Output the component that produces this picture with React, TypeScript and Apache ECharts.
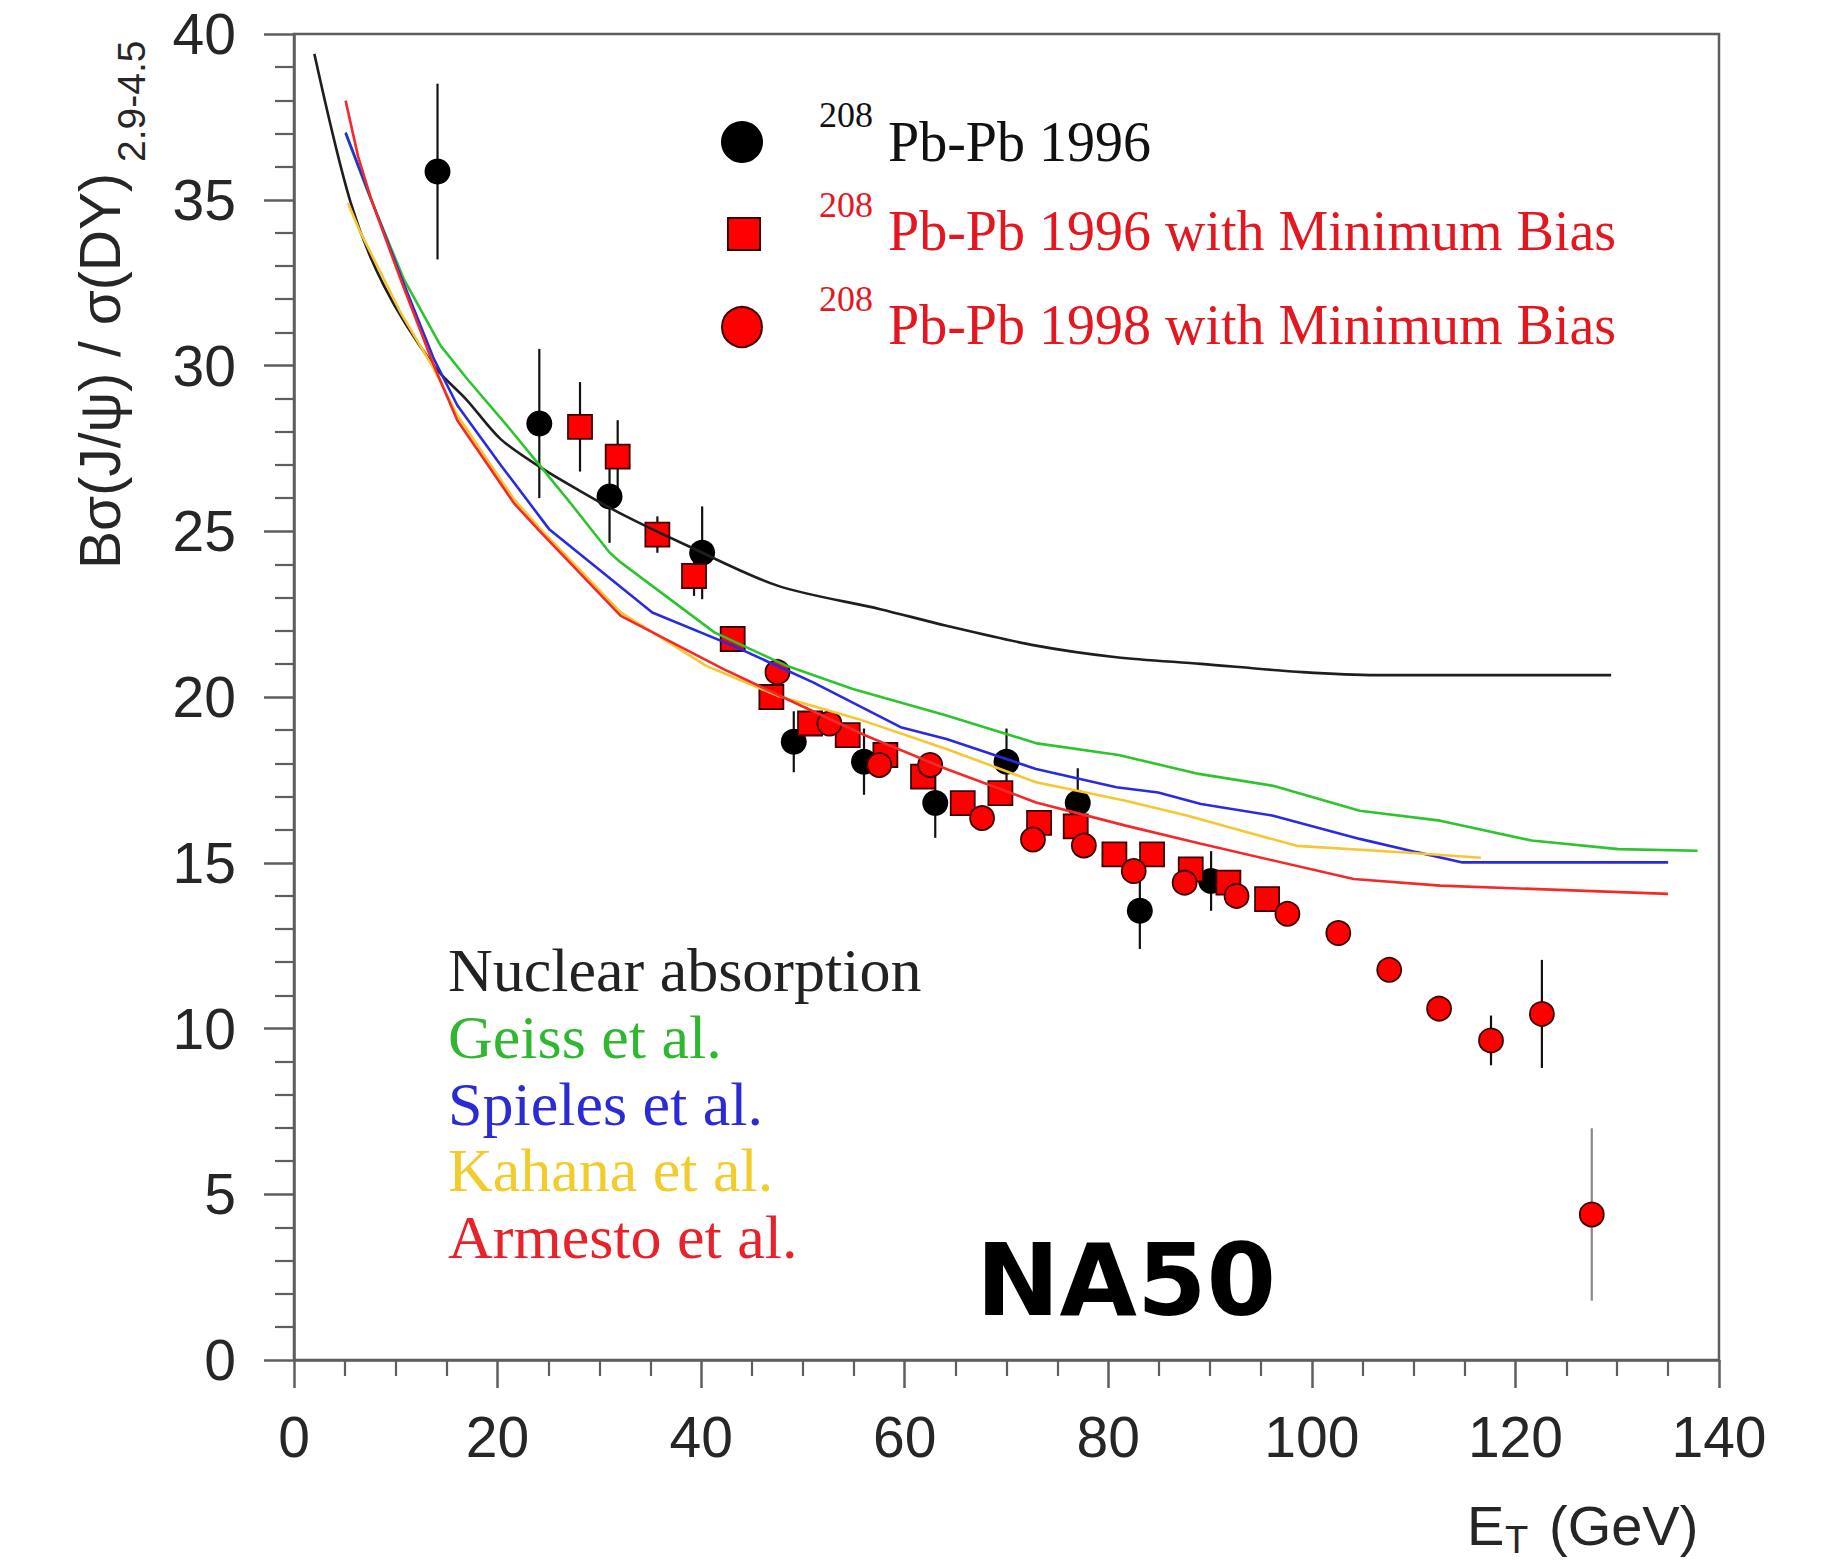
import React, { useEffect, useRef } from "react";
import * as echarts from "echarts";

// ---------- data ----------
// Pb-Pb 1996 (black circles)
const pb96X = [14.1, 24.1, 31.0, 40.1, 49.1, 56.0, 63.0, 70.0, 77.0, 83.1, 90.1];
const pb96Y = [35.85, 28.25, 26.05, 24.35, 18.65, 18.05, 16.8, 18.05, 16.8, 13.55, 14.45];
const pb96Err = [2.65, 2.25, 1.4, 1.4, 0.92, 1.0, 1.05, 1.0, 1.05, 1.15, 0.9];

// Pb-Pb 1996 with Minimum Bias (red squares)
const mb96X = [28.1, 31.8, 35.7, 39.3, 43.1, 46.9, 50.7, 54.4, 58.1, 61.8, 65.7, 69.4, 73.2, 76.8, 80.6, 84.3, 88.1, 91.8, 95.6];
const mb96Y = [28.15, 27.25, 24.9, 23.65, 21.75, 20.0, 19.2, 18.85, 18.25, 17.6, 16.8, 17.1, 16.2, 16.1, 15.25, 15.25, 14.8, 14.4, 13.9];
const mb96Err = [1.35, 1.1, 0.55, 0.6, 0.35, 0.3, 0.3, 0.3, 0.3, 0.3, 0.3, 0.3, 0.3, 0.3, 0.3, 0.3, 0.3, 0.3, 0.3];

// Pb-Pb 1998 with Minimum Bias (red circles)
const mb98X = [47.5, 52.6, 57.5, 62.5, 67.6, 72.6, 77.6, 82.5, 87.5, 92.6, 97.6, 102.6, 107.6, 112.5, 117.6, 122.6, 127.5];
const mb98Y = [20.75, 19.2, 17.95, 17.95, 16.35, 15.7, 15.52, 14.75, 14.4, 14.0, 13.46, 12.88, 11.77, 10.6, 9.64, 10.44, 4.39];
const mb98Err = [0.4, 0.3, 0.3, 0.3, 0.3, 0.3, 0.3, 0.3, 0.3, 0.3, 0.3, 0.3, 0.3, 0.3, 0.75, 1.63, 2.6];

// model curves
const nucX = [2.0, 5.56, 8.83, 13.74, 17.0, 20.3, 24.1, 27.8, 32.3, 38.4, 47.5, 57.6, 64.1, 72.9, 80.8, 89.1, 99.1, 106.4, 129.4];
const nucY = [39.4, 34.92, 32.41, 29.99, 28.95, 27.78, 26.95, 26.27, 25.5, 24.6, 23.36, 22.65, 22.15, 21.55, 21.2, 21.0, 20.75, 20.66, 20.66];

const geissX = [5.07, 7.3, 10.8, 14.4, 17.0, 20.95, 26.85, 31.0, 32.1, 41.3, 48.4, 54.9, 64.1, 73.0, 81.0, 88.9, 96.2, 104.7, 112.6, 121.6, 130.1, 137.9];
const geissY = [37.0, 35.2, 32.6, 30.6, 29.6, 28.18, 25.97, 24.36, 24.06, 21.95, 20.94, 20.24, 19.44, 18.6, 18.25, 17.68, 17.32, 16.57, 16.27, 15.67, 15.41, 15.36];

const spielesX = [5.07, 7.2, 10.47, 13.74, 16.04, 20.3, 25.1, 35.2, 43.1, 51.0, 59.6, 64.1, 72.9, 80.8, 84.9, 89.1, 96.2, 104.7, 110.3, 114.8, 135.0];
const spielesY = [37.03, 35.32, 32.71, 30.2, 28.8, 27.0, 25.05, 22.55, 21.55, 20.44, 19.09, 18.73, 17.83, 17.28, 17.12, 16.77, 16.42, 15.72, 15.32, 15.01, 15.01];

const kahanaX = [5.3, 6.4, 10.47, 13.74, 16.04, 21.6, 24.2, 32.1, 40.5, 47.5, 55.4, 64.1, 72.9, 81.7, 87.8, 98.5, 109.2, 116.6];
const kahanaY = [34.9, 34.1, 31.6, 29.9, 28.5, 25.97, 25.07, 22.55, 20.94, 20.04, 19.34, 18.43, 17.43, 16.87, 16.42, 15.51, 15.31, 15.15];

const armestoX = [5.07, 6.3, 7.6, 10.47, 13.74, 16.04, 21.6, 24.0, 32.1, 42.2, 48.4, 56.2, 64.1, 72.9, 81.7, 89.1, 104.1, 112.6, 135.0];
const armestoY = [37.99, 36.3, 35.0, 32.6, 30.0, 28.35, 25.85, 25.05, 22.45, 20.84, 19.94, 18.83, 17.83, 16.82, 16.12, 15.57, 14.51, 14.31, 14.06];

const xTicks = { min: 0, max: 140, interval: 20 };
const yTicks = { min: 0, max: 40, interval: 5 };

const dataLegend = ["Pb-Pb 1996", "Pb-Pb 1996 with Minimum Bias", "Pb-Pb 1998 with Minimum Bias"];
const modelLegend = ["Nuclear absorption", "Geiss et al.", "Spieles et al.", "Kahana et al.", "Armesto et al."];

// ---------- helpers ----------
const zip2 = (xs: number[], ys: number[]) => xs.map((x, i) => [x, ys[i]]);
const zip3 = (xs: number[], ys: number[], es: number[]) => xs.map((x, i) => [x, ys[i], es[i]]);

const AXIS_COLOR = "#5e5e5e";
const SANS = '"Liberation Sans", Arial, sans-serif';
const SERIF = '"Liberation Serif", "Times New Roman", serif';

function errorSeries(data: number[][], color: string, lastColor?: string) {
  return {
    type: "custom",
    z: 2,
    silent: true,
    encode: { x: 0, y: 1 },
    data,
    renderItem: (params: any, api: any) => {
      const x = api.value(0);
      const y = api.value(1);
      const e = api.value(2);
      const p1 = api.coord([x, y - e]);
      const p2 = api.coord([x, y + e]);
      const isLast = lastColor && params.dataIndex === data.length - 1;
      return {
        type: "line",
        shape: { x1: p1[0], y1: p1[1], x2: p2[0], y2: p2[1] },
        style: { stroke: isLast ? lastColor : color, lineWidth: 2.2 },
      };
    },
  };
}

function curve(xs: number[], ys: number[], color: string, z: number, smooth: number | boolean = false) {
  return {
    type: "line",
    data: zip2(xs, ys),
    symbol: "none",
    showSymbol: false,
    smooth,
    z,
    silent: true,
    lineStyle: { color, width: 2.6 },
  };
}

function txt(x: number, y: number, text: string, font: string, fill: string, align = "left", extra: any = {}) {
  return {
    type: "text",
    x,
    y,
    ...extra,
    style: {
      text,
      font,
      fill,
      textAlign: align,
      textVerticalAlign: "middle",
      align,
      verticalAlign: "middle",
    },
  };
}

export default function App() {
  const ref = useRef<HTMLDivElement>(null);

  useEffect(() => {
    document.body.style.margin = "0";
    document.body.style.overflow = "hidden";
    if (!ref.current) return;
    const chart = echarts.init(ref.current, undefined, { renderer: "svg" });

    const axisCommon = {
      type: "value",
      axisLine: { show: true, onZero: false, lineStyle: { color: AXIS_COLOR, width: 2.5 } },
      axisTick: { show: true, inside: false, lineStyle: { color: AXIS_COLOR, width: 2.5 } },
      splitLine: { show: false },
      axisLabel: { fontSize: 57, color: "#262626", fontFamily: SANS },
    };

    const legendRowsY = [142, 231, 325];
    const supRowsY = [115, 205, 299];
    const legendColors = ["#111111", "#e3171f", "#e3171f"];
    const modelColors = ["#222222", "#2fb82f", "#2b2bd6", "#f2cc2c", "#e8222a"];
    const modelRowsY = [970, 1037, 1104, 1170, 1237];

    const graphics: any[] = [
      // legend markers
      { type: "circle", shape: { cx: 742, cy: 142, r: 21 }, style: { fill: "#000" }, z: 10 },
      { type: "rect", shape: { x: 728, y: 218, width: 32, height: 32 }, style: { fill: "#ff0000", stroke: "#3a0000", lineWidth: 2 }, z: 10 },
      { type: "circle", shape: { cx: 742, cy: 327, r: 20 }, style: { fill: "#ff0000", stroke: "#3a0000", lineWidth: 2 }, z: 10 },
      // y axis title
      txt(100, 569, "Bσ(J/ψ) / σ(DY)", `57px ${SANS}`, "#262626", "left", { rotation: Math.PI / 2 }),
      txt(131, 162, "2.9-4.5", `39px ${SANS}`, "#262626", "left", { rotation: Math.PI / 2 }),
      // x axis title
      txt(1467, 1525, "E", `56px ${SANS}`, "#262626"),
      txt(1505, 1540, "T", `38px ${SANS}`, "#262626"),
      txt(1549, 1525, "(GeV)", `56px ${SANS}`, "#262626"),
      // NA50 logo
      txt(1126, 1280, "NA50", `900 100px "DejaVu Sans", sans-serif`, "#000", "center"),
    ];
    dataLegend.forEach((label, i) => {
      graphics.push(txt(819, supRowsY[i], "208", `36px ${SERIF}`, legendColors[i]));
      graphics.push(txt(888, legendRowsY[i], label, `56px ${SERIF}`, legendColors[i]));
    });
    modelLegend.forEach((label, i) => {
      graphics.push(txt(448, modelRowsY[i], label, `62px ${SERIF}`, modelColors[i]));
    });

    const option: any = {
      animation: false,
      backgroundColor: "#ffffff",
      grid: {
        left: 294,
        top: 34,
        width: 1425,
        height: 1326,
        show: true,
        borderColor: AXIS_COLOR,
        borderWidth: 2.5,
        backgroundColor: "transparent",
      },
      xAxis: {
        ...axisCommon,
        min: xTicks.min,
        max: xTicks.max,
        interval: xTicks.interval,
        axisTick: { ...axisCommon.axisTick, length: 28 },
        minorTick: { show: true, splitNumber: 4, length: 16, lineStyle: { color: AXIS_COLOR, width: 2.2 } },
        axisLabel: { ...axisCommon.axisLabel, margin: 48 },
      },
      yAxis: {
        ...axisCommon,
        min: yTicks.min,
        max: yTicks.max,
        interval: yTicks.interval,
        axisTick: { ...axisCommon.axisTick, length: 30 },
        minorTick: { show: true, splitNumber: 5, length: 19, lineStyle: { color: AXIS_COLOR, width: 2.2 } },
        axisLabel: { ...axisCommon.axisLabel, margin: 58 },
      },
      series: [
        errorSeries(zip3(pb96X, pb96Y, pb96Err), "#111"),
        errorSeries(zip3(mb96X, mb96Y, mb96Err), "#111"),
        errorSeries(zip3(mb98X, mb98Y, mb98Err), "#111", "#8a8a8a"),
        {
          type: "scatter",
          name: dataLegend[0],
          data: zip2(pb96X, pb96Y),
          symbol: "circle",
          symbolSize: 26,
          z: 3,
          itemStyle: { color: "#000", opacity: 1 },
        },
        {
          type: "scatter",
          name: dataLegend[1],
          data: zip2(mb96X, mb96Y),
          symbol: "rect",
          symbolSize: 24,
          z: 3,
          itemStyle: { color: "#ff0000", borderColor: "#3a0000", borderWidth: 1.8, opacity: 1 },
        },
        {
          type: "scatter",
          name: dataLegend[2],
          data: zip2(mb98X, mb98Y),
          symbol: "circle",
          symbolSize: 24,
          z: 3,
          itemStyle: { color: "#ff0000", borderColor: "#3a0000", borderWidth: 1.8, opacity: 1 },
        },
        curve(nucX, nucY, "#1e1e1e", 5, 0.3),
        curve(geissX, geissY, "#2ec42e", 5),
        curve(spielesX, spielesY, "#2a2ae0", 6),
        curve(kahanaX, kahanaY, "#f7c632", 6),
        curve(armestoX, armestoY, "#f22a2a", 7),
      ],
      graphic: graphics,
    };

    chart.setOption(option);
    return () => chart.dispose();
  }, []);

  return <div ref={ref} style={{ width: 1840, height: 1563 }} />;
}
